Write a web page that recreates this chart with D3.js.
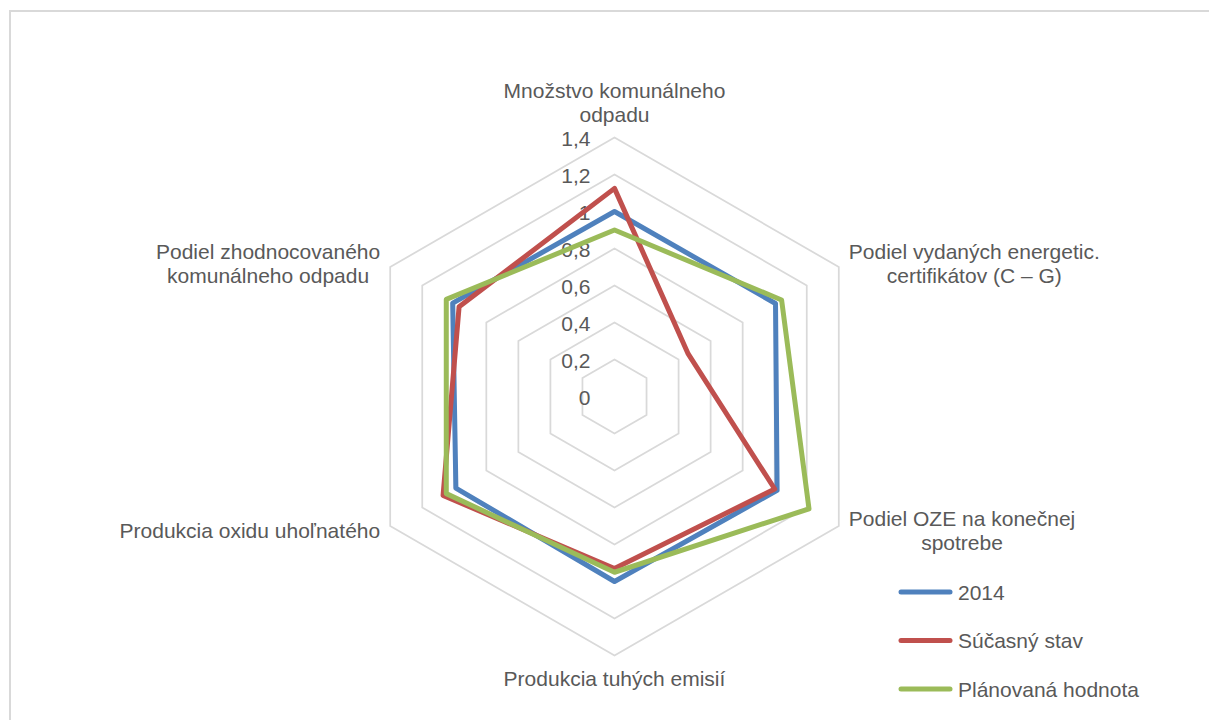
<!DOCTYPE html>
<html>
<head>
<meta charset="utf-8">
<script src="https://cdn.jsdelivr.net/npm/d3@7"></script>
<style>
  body { margin: 0; background: #fff; }
  text { font-family: "Liberation Sans", Arial, sans-serif; fill: #595959; }
</style>
</head>
<body>
<div id="radar_dataviz"></div>
<script>
// categories (axes), clockwise from the top
var categories = [
  ["Množstvo komunálneho", "odpadu"],
  ["Podiel vydaných energetic.", "certifikátov (C – G)"],
  ["Podiel OZE na konečnej", "spotrebe"],
  ["Produkcia tuhých emisií"],
  ["Produkcia oxidu uhoľnatého"],
  ["Podiel zhodnocovaného", "komunálneho odpadu"]
];

// series
var seriesNames = ["2014", "Súčasný stav", "Plánovaná hodnota"];
var values2014 = [1.0, 1.005, 1.015, 1.0, 0.99, 1.01];
var valuesCurrent = [1.125, 0.46, 1.0, 0.93, 1.07, 0.97];
var valuesPlanned = [0.9, 1.043, 1.214, 0.95, 1.05, 1.05];

// ticks
var tickValues = [0, 0.2, 0.4, 0.6, 0.8, 1, 1.2, 1.4];
var tickLabels = ["0", "0,2", "0,4", "0,6", "0,8", "1", "1,2", "1,4"];

var colors = ["#4F81BD", "#C0504D", "#9BBB59"];
var allSeries = [values2014, valuesCurrent, valuesPlanned];

var width = 1209, height = 720;
var cx = 614.5, cy = 396.5;

var svg = d3
  .select("#radar_dataviz")
  .append("svg")
  .attr("width", width)
  .attr("height", height);

// chart area frame (only top and left edges are visible)
svg
  .append("rect")
  .attr("x", 10)
  .attr("y", 11)
  .attr("width", 1300)
  .attr("height", 900)
  .style("fill", "none")
  .style("stroke", "#d9d9d9")
  .style("stroke-width", 2);

var g = svg.append("g").attr("transform", "translate(" + cx + "," + cy + ")");

// radial scale
var r = d3.scaleLinear().domain([0, 1.4]).range([0, 259]);
var n = categories.length;
var angle = d3.scaleLinear().domain([0, n]).range([0, 2 * Math.PI]);

function point(i, v) {
  var a = angle(i);
  return [r(v) * Math.sin(a), -r(v) * Math.cos(a)];
}

// gridline hexagons
g.append("g")
  .selectAll("path")
  .data(tickValues.slice(1))
  .enter()
  .append("path")
  .attr("d", function (t) {
    return d3.line()(d3.range(n).map(function (i) { return point(i, t); })) + "Z";
  })
  .style("fill", "none")
  .style("stroke", "#d9d9d9")
  .style("stroke-width", 1.75);

// tick labels
g.append("g")
  .selectAll("text")
  .data(tickValues)
  .enter()
  .append("text")
  .attr("x", -24)
  .attr("y", function (t) { return -r(t) + 1.5; })
  .attr("dy", "0.35em")
  .style("text-anchor", "end")
  .style("font-size", "21px")
  .text(function (t, i) { return tickLabels[i]; });

// series lines
var line = d3.line();
g.append("g")
  .selectAll("path")
  .data(allSeries)
  .enter()
  .append("path")
  .attr("d", function (vals) {
    return line(vals.map(function (v, i) { return point(i, v); })) + "Z";
  })
  .style("fill", "none")
  .style("stroke", function (d, i) { return colors[i]; })
  .style("stroke-width", 5)
  .style("stroke-linejoin", "round");

// category labels
var lineHeight = 23.5;
categories.forEach(function (lines, i) {
  var p = point(i, 1.4);
  var s = Math.sin(angle(i)), c = Math.cos(angle(i));
  var t = svg.append("text").style("font-size", "21px");
  var tspans = t
    .selectAll("tspan")
    .data(lines)
    .enter()
    .append("tspan")
    .text(function (d) { return d; });
  var maxW = 0;
  tspans.each(function () { maxW = Math.max(maxW, this.getComputedTextLength()); });

  var x, firstBaseline;
  var blockH = (lines.length - 1) * lineHeight;
  if (Math.abs(s) < 0.1) {
    x = cx + p[0];
    if (c > 0) firstBaseline = cy + p[1] - 16 - blockH;
    else firstBaseline = cy + p[1] + 30;
  } else {
    x = s > 0 ? cx + p[0] + 10 + maxW / 2 : cx + p[0] - 10 - maxW / 2;
    var mid = cy + p[1] + (c > 0 ? -3 : 5);
    firstBaseline = mid - blockH / 2 + 7;
  }
  tspans
    .attr("x", x)
    .attr("y", function (d, j) { return firstBaseline + j * lineHeight; })
    .style("text-anchor", "middle");
});

// legend
var legend = svg
  .append("g")
  .selectAll("g")
  .data(seriesNames)
  .enter()
  .append("g")
  .attr("transform", function (d, i) { return "translate(901," + (592 + i * 48.5) + ")"; });

legend
  .append("line")
  .attr("x1", 0)
  .attr("x2", 49)
  .attr("y1", 0)
  .attr("y2", 0)
  .style("stroke", function (d, i) { return colors[i]; })
  .style("stroke-width", 5)
  .style("stroke-linecap", "round");

legend
  .append("text")
  .attr("x", 57)
  .attr("y", 7.5)
  .style("font-size", "21px")
  .text(function (d) { return d; });
</script>
</body>
</html>
